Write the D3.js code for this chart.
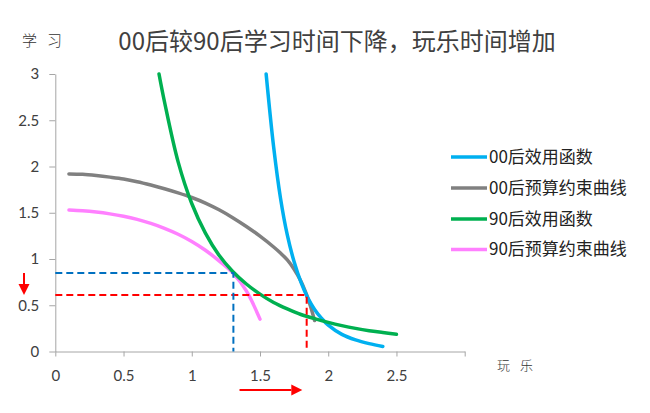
<!DOCTYPE html>
<html>
<head>
<meta charset="utf-8">
<script src="https://cdn.jsdelivr.net/npm/d3@7/dist/d3.min.js"></script>
<style>
  html, body { margin: 0; padding: 0; background: #fff; }
  svg { display: block; }
</style>
</head>
<body>
<svg id="chart" width="650" height="413"></svg>
<script>
// ---- data ----
const titleText = "00后较90后学习时间下降，玩乐时间增加";
const yLabel = "学习";
const xLabel = "玩乐";
const xTicks = [0, 0.5, 1, 1.5, 2, 2.5, 3];
const xTickLabels = ["0", "0.5", "1", "1.5", "2", "2.5", ""];
const yTicks = [0, 0.5, 1, 1.5, 2, 2.5, 3];
const yTickLabels = ["0", "0.5", "1", "1.5", "2", "2.5", "3"];

const seriesNames = ["00后效用函数", "00后预算约束曲线", "90后效用函数", "90后预算约束曲线"];
const seriesColors = ["#00B0F0", "#808080", "#00B050", "#FF80FF"];

// 00后效用函数
const util00 = [[1.545, 3.0], [1.6, 2.21], [1.65, 1.66], [1.7, 1.26], [1.75, 0.97], [1.8, 0.75],
  [1.85, 0.58], [1.9, 0.455], [1.95, 0.36], [2.0, 0.285], [2.1, 0.185], [2.2, 0.125], [2.3, 0.085], [2.4, 0.055]];
// 00后预算约束曲线
const budget00 = [[0.1, 1.92], [0.2, 1.915], [0.3, 1.902], [0.4, 1.885], [0.5, 1.865], [0.6, 1.836],
  [0.7, 1.8], [0.8, 1.76], [0.9, 1.715], [1.0, 1.665], [1.1, 1.605], [1.2, 1.532], [1.3, 1.447],
  [1.4, 1.352], [1.5, 1.247], [1.6, 1.13], [1.65, 1.065], [1.7, 0.99], [1.75, 0.89], [1.8, 0.76],
  [1.84, 0.62], [1.87, 0.49], [1.9, 0.335]];
// 90后效用函数
const util90 = [[0.76, 3.0], [0.8, 2.7], [0.9, 2.05], [1.0, 1.6], [1.1, 1.28], [1.2, 1.04],
  [1.3, 0.865], [1.4, 0.73], [1.5, 0.62], [1.6, 0.53], [1.7, 0.46], [1.8, 0.4], [1.9, 0.355],
  [2.0, 0.315], [2.1, 0.28], [2.2, 0.25], [2.3, 0.225], [2.4, 0.205], [2.5, 0.186]];
// 90后预算约束曲线
const budget90 = [[0.1, 1.53], [0.2, 1.522], [0.3, 1.508], [0.4, 1.488], [0.5, 1.462], [0.6, 1.428],
  [0.7, 1.385], [0.8, 1.332], [0.9, 1.268], [1.0, 1.19], [1.1, 1.095], [1.2, 0.98], [1.3, 0.85],
  [1.4, 0.655], [1.5, 0.35]];

// guide lines (optimum points)
const opt00 = [1.842, 0.61];   // red
const opt90 = [1.305, 0.85];   // blue
const guideColors = ["#FF0000", "#0070C0"];
const arrowX = [1.35, 1.81];   // horizontal arrow span (x units)

// ---- layout ----
const svg = d3.select("#chart");
const x = d3.scaleLinear().domain([0, 3]).range([55.3, 464.7]);
const y = d3.scaleLinear().domain([0, 3]).range([351.5, 74]);
const axisColor = "#A6A6A6";
const tickFont = "Lato, 'Open Sans', sans-serif";
const cjk = "'Noto Sans CJK SC', 'Noto Sans', sans-serif";

// title
svg.append("text")
  .attr("x", 337).attr("y", 50)
  .attr("text-anchor", "middle")
  .attr("font-family", cjk)
  .attr("font-size", 24)
  .attr("fill", "#404040")
  .text(titleText);

svg.append("text")
  .attr("x", 22).attr("y", 46)
  .attr("font-family", cjk)
  .attr("font-size", 15)
  .attr("font-weight", 300)
  .attr("letter-spacing", 10)
  .attr("fill", "#333")
  .text(yLabel);

svg.append("text")
  .attr("x", 497).attr("y", 370)
  .attr("font-family", cjk)
  .attr("font-size", 13)
  .attr("font-weight", 300)
  .attr("letter-spacing", 10)
  .attr("fill", "#333")
  .text(xLabel);

// axes
const xAxis = d3.axisBottom(x).tickValues(xTicks)
  .tickFormat((d, i) => xTickLabels[i]).tickSize(5).tickSizeOuter(0).tickPadding(14);
const yAxis = d3.axisLeft(y).tickValues(yTicks)
  .tickFormat((d, i) => yTickLabels[i]).tickSize(6).tickSizeOuter(0).tickPadding(10);

const gx = svg.append("g").attr("transform", `translate(0,${y(0)})`).call(xAxis);
const gy = svg.append("g").attr("transform", `translate(${x(0)},0)`).call(yAxis);
[gx, gy].forEach(g => {
  g.select(".domain").attr("stroke", axisColor);
  g.selectAll(".tick line").attr("stroke", axisColor);
  g.selectAll(".tick text").attr("fill", "#404040")
    .attr("font-family", tickFont).attr("font-size", 15);
});

// curves
const line = d3.line().x(d => x(d[0])).y(d => y(d[1])).curve(d3.curveCatmullRom.alpha(0.5));
const order = [[budget00, 1], [budget90, 3], [util00, 0], [util90, 2]];
order.forEach(([data, i]) => {
  svg.append("path").datum(data)
    .attr("d", line)
    .attr("fill", "none")
    .attr("stroke", seriesColors[i])
    .attr("stroke-width", 3.5)
    .attr("stroke-linecap", "round");
});

// dashed guide lines
[[opt00, guideColors[0]], [opt90, guideColors[1]]].forEach(([p, c]) => {
  svg.append("path")
    .attr("d", d3.line()([[x(0), y(p[1])], [x(p[0]), y(p[1])], [x(p[0]), y(0)]]))
    .attr("fill", "none")
    .attr("stroke", c)
    .attr("stroke-width", 2)
    .attr("stroke-dasharray", "7,4");
});

// arrows
function arrow(x1, y1, x2, y2) {
  const ang = Math.atan2(y2 - y1, x2 - x1);
  const hl = 11, hw = 5.5;
  const bx = x2 - hl * Math.cos(ang), by = y2 - hl * Math.sin(ang);
  svg.append("line").attr("x1", x1).attr("y1", y1).attr("x2", bx).attr("y2", by)
    .attr("stroke", "#FF0000").attr("stroke-width", 2);
  const px = -Math.sin(ang) * hw, py = Math.cos(ang) * hw;
  svg.append("path")
    .attr("d", `M${x2},${y2}L${bx + px},${by + py}L${bx - px},${by - py}Z`)
    .attr("fill", "#FF0000");
}
arrow(24, y(opt90[1]), 24, y(opt00[1]));
arrow(x(arrowX[0]), 390, x(arrowX[1]), 390);

// legend
const legendRows = [157, 188, 219, 249.5];
seriesNames.forEach((name, i) => {
  svg.append("line")
    .attr("x1", 451).attr("x2", 487)
    .attr("y1", legendRows[i]).attr("y2", legendRows[i])
    .attr("stroke", seriesColors[i]).attr("stroke-width", 3.5);
  svg.append("text")
    .attr("x", 489).attr("y", legendRows[i])
    .attr("dy", "0.35em")
    .attr("font-family", cjk)
    .attr("font-size", 17)
    .attr("fill", "#222")
    .text(name);
});
</script>
</body>
</html>
